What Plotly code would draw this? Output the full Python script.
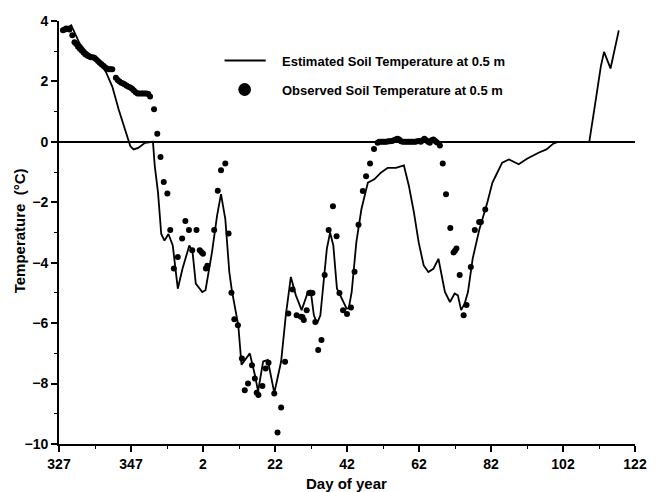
import plotly.graph_objects as go

# Day axis runs continuously across the new year (366 = Jan 1)
tick_days = [327, 347, 367, 387, 407, 427, 447, 467, 487]
tick_labels = ["327", "347", "2", "22", "42", "62", "82", "102", "122"]

# Estimated soil temperature at 0.5 m
est_day = [
    328.1, 329.0, 330.4, 331.5, 332.7, 334.5, 336.5, 338.1, 340.0, 341.8,
    343.6, 345.4, 346.8, 347.7, 349.0, 350.9, 353.1, 353.6, 354.5, 355.4,
    356.3, 357.4, 358.6, 360.0, 361.3, 363.2, 364.1, 365.0, 366.8, 367.7,
    369.5, 370.9, 372.0, 373.2, 374.3, 375.0, 375.9, 376.8, 377.7, 378.9,
    380.0, 381.4, 382.3, 383.7, 385.0, 386.8, 388.7, 390.0, 391.4, 392.8,
    394.4, 396.0, 396.9, 397.8, 398.7, 399.6, 400.5, 401.4, 402.3, 403.2,
    404.2, 405.5, 406.9, 407.5, 408.3, 409.6, 411.0, 412.8, 414.6, 416.4,
    418.3, 420.6, 422.8, 424.2, 425.6, 426.9, 428.3, 429.6, 431.0, 432.4,
    433.3, 434.2, 435.6, 436.9, 437.8, 438.7, 439.7, 440.6, 441.9, 443.8,
    446.0, 447.4, 448.3, 450.1, 452.0, 454.7, 457.0, 458.3, 460.2, 462.4,
    464.3, 465.6, 474.3, 476.1, 477.5, 478.4, 480.2, 482.5,
]
est_temp = [
    3.64, 3.75, 3.86, 3.55, 3.26, 3.00, 2.82, 2.65, 2.32, 1.83,
    1.06, 0.40, -0.14, -0.25, -0.20, -0.03, 0.00, -0.80, -1.67, -3.05,
    -3.27, -3.05, -3.43, -4.86, -4.20, -3.43, -3.65, -4.69, -4.97, -4.91,
    -3.65, -2.45, -1.73, -2.56, -4.30, -4.91, -5.46, -6.07, -7.38, -7.20,
    -7.00, -7.71, -8.26, -7.27, -7.22, -8.31, -7.27, -5.74, -4.47, -5.08,
    -5.57, -5.02, -4.91, -5.74, -6.01, -5.74, -4.64, -3.54, -3.00, -3.43,
    -4.85, -5.19, -5.52, -5.50, -4.97, -3.32, -2.23, -1.35, -1.24, -1.02,
    -0.86, -0.86, -0.78, -1.46, -2.34, -3.32, -4.09, -4.31, -4.20, -3.87,
    -4.42, -4.97, -5.30, -5.02, -5.08, -5.57, -5.35, -4.97, -3.87, -2.88,
    -2.00, -1.35, -1.13, -0.69, -0.58, -0.74, -0.56, -0.47, -0.36, -0.25,
    -0.06, 0.00, 0.00, 1.39, 2.49, 2.98, 2.43, 3.69,
]

# Observed soil temperature at 0.5 m
obs_day = [
    328.1, 328.6, 329.0, 329.5, 329.9, 330.7, 331.3, 331.8, 332.3, 332.8,
    333.3, 333.8, 334.3, 334.8, 335.3, 335.8, 336.3, 336.8, 337.3, 337.8,
    338.3, 338.8, 339.3, 339.8, 340.3, 340.8, 341.3, 341.8,
    342.8, 343.3, 343.8, 344.3, 344.8, 345.3, 345.8, 346.3, 346.8, 347.3,
    347.8, 348.3, 348.8, 349.3, 349.8, 350.3, 350.8, 351.3, 351.8, 352.3,
    353.4, 354.3, 355.2, 356.1, 357.1, 357.9, 358.9, 360.0, 361.2, 362.1,
    363.1, 364.0, 365.2, 366.1, 366.6, 367.0, 367.8, 368.2, 370.1, 371.1,
    372.0, 373.2, 374.1, 374.9, 375.7, 376.7, 377.8, 378.6, 379.5, 380.6,
    381.4, 381.9, 382.4, 383.5, 384.4, 385.2, 386.8, 387.7, 388.7, 389.8,
    390.7, 391.9, 393.0, 394.2, 394.6, 395.0, 395.8, 396.5, 397.4, 398.2,
    399.0, 399.9, 400.8, 401.9, 403.1, 404.1, 404.9, 405.9, 407.0, 408.1,
    409.1, 410.2, 411.4, 412.3, 413.4, 414.5,
    415.5, 416.0, 416.5, 417.0, 417.5, 418.0, 418.5, 419.0, 419.5, 420.0,
    420.5, 421.0, 421.5, 422.0, 422.5, 423.0, 423.5, 424.0, 424.5, 425.0,
    425.5, 426.0, 426.5, 427.0, 427.5, 428.0, 428.5, 429.0, 429.5, 430.0,
    430.5, 431.0, 431.5, 432.0, 432.8,
    433.6, 434.5, 435.7, 436.6, 437.0, 437.4, 438.3, 439.4, 440.2, 441.4,
    442.5, 443.7, 444.2, 445.4,
]
obs_temp = [
    3.69, 3.72, 3.75, 3.74, 3.72, 3.53, 3.30, 3.24, 3.15, 3.08,
    3.02, 2.96, 2.90, 2.86, 2.83, 2.80, 2.80, 2.78, 2.73, 2.68,
    2.62, 2.57, 2.52, 2.47, 2.42, 2.40, 2.40, 2.40,
    2.12, 2.05, 2.00, 1.96, 1.93, 1.90, 1.86, 1.82, 1.80, 1.76,
    1.70, 1.64, 1.60, 1.60, 1.60, 1.60, 1.60, 1.60, 1.58, 1.50,
    1.08, 0.27, -0.50, -1.33, -1.71, -2.92, -4.19, -3.81, -3.20, -2.62,
    -2.92, -3.59, -2.92, -3.59, -3.65, -3.70, -4.19, -4.10, -2.92, -1.62,
    -0.94, -0.72, -3.03, -4.99, -5.87, -6.07, -7.17, -8.22, -8.00, -7.39,
    -7.83, -8.30, -8.38, -8.08, -7.50, -7.31, -8.33, -9.62, -8.79, -7.28,
    -5.68, -4.89, -5.74, -5.79, -5.80, -5.90, -5.57, -5.00, -5.00, -5.96,
    -6.89, -6.56, -4.41, -2.92, -2.13, -3.12, -5.00, -5.57, -5.70, -5.48,
    -4.30, -2.74, -1.63, -1.14, -0.72, -0.24,
    -0.03, 0.00, 0.00, 0.00, 0.00, 0.00, 0.02, 0.02, 0.03, 0.05,
    0.08, 0.10, 0.08, 0.02, 0.00, 0.00, 0.00, 0.00, 0.00, 0.00,
    0.00, 0.00, 0.02, 0.03, 0.00, 0.05, 0.10, 0.05, 0.00, -0.03,
    0.05, 0.08, 0.03, -0.02, -0.12,
    -0.72, -1.73, -2.85, -3.66, -3.60, -3.53, -4.41, -5.74, -5.40, -4.14,
    -2.92, -2.65, -2.65, -2.24,
]

series_names = ["Estimated Soil Temperature at 0.5 m", "Observed Soil Temperature at 0.5 m"]

W, H = 659, 492
ML, MR, MT, MB = 59, 12, 21, 48
PW, PH = W - ML - MR, H - MT - MB


def px_x(px):
    return (px - ML) / PW


def px_y(py):
    return 1 - (py - MT) / PH


FONT = "Liberation Sans, Arial, sans-serif"

fig = go.Figure()
fig.add_trace(go.Scatter(
    x=est_day, y=est_temp, mode="lines",
    line=dict(color="black", width=1.8),
    name=series_names[0], showlegend=False,
))
fig.add_trace(go.Scatter(
    x=obs_day, y=obs_temp, mode="markers",
    marker=dict(color="black", size=6),
    name=series_names[1], showlegend=False,
))

axis_common = dict(
    showline=True, linecolor="black", linewidth=1.8,
    ticks="outside", ticklen=6, tickwidth=1.5, tickcolor="black",
    showgrid=False, mirror=False,
    tickfont=dict(family=FONT, size=14, color="black", weight="bold"),
)

fig.update_xaxes(
    range=[327, 487], tickmode="array", tickvals=tick_days, ticktext=tick_labels,
    minor=dict(ticks="outside", ticklen=3, tickwidth=1.2, tickcolor="black",
               tick0=337, dtick=20, showgrid=False),
    zeroline=False, **axis_common,
)
fig.update_yaxes(
    range=[-10, 4], tick0=-10, dtick=2,
    minor=dict(ticks="outside", ticklen=3, tickwidth=1.2, tickcolor="black",
               tick0=-9, dtick=2, showgrid=False),
    zeroline=True, zerolinecolor="black", zerolinewidth=1.5,
    **axis_common,
)

# Legend keys
fig.add_shape(type="line", xref="paper", yref="paper",
              x0=px_x(228), x1=px_x(270), y0=px_y(60.5), y1=px_y(60.5),
              line=dict(color="black", width=1.8))
fig.add_shape(type="circle", xref="paper", yref="paper",
              x0=px_x(242), x1=px_x(255), y0=px_y(83), y1=px_y(96),
              fillcolor="black", line=dict(color="black", width=0))
for name, py in zip(series_names, [61, 90]):
    fig.add_annotation(text=name, xref="paper", yref="paper",
                       x=px_x(285), y=px_y(py), xanchor="left", yanchor="middle",
                       showarrow=False,
                       font=dict(family=FONT, size=13, color="black", weight="bold"))

# Axis titles
fig.add_annotation(text="Temperature  (°C)", xref="paper", yref="paper",
                   x=px_x(18.5), y=px_y(231), xanchor="center", yanchor="middle",
                   textangle=-90, showarrow=False,
                   font=dict(family=FONT, size=15, color="black", weight="bold"))
fig.add_annotation(text="Day of year", xref="paper", yref="paper",
                   x=px_x(352), y=px_y(483), xanchor="center", yanchor="middle",
                   showarrow=False,
                   font=dict(family=FONT, size=15, color="black", weight="bold"))

fig.update_layout(
    width=W, height=H,
    margin=dict(l=ML, r=MR, t=MT, b=MB, pad=0),
    paper_bgcolor="white", plot_bgcolor="white",
    showlegend=False,
)

fig.write_html("out.html")
